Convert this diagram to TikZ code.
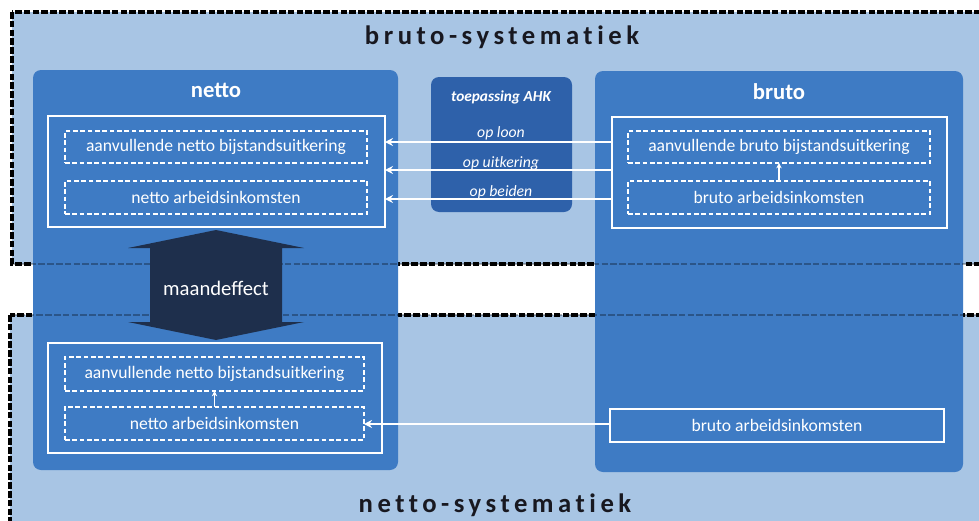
\documentclass[tikz,border=0pt]{standalone}
\usepackage{fontspec}
\setmainfont{Carlito}
\newfontfamily\spacedfont[LetterSpace=17,Ligatures=NoCommon]{Carlito}
\usetikzlibrary{arrows.meta}
\definecolor{regionblue}{RGB}{168,197,228}
\definecolor{panelblue}{RGB}{62,123,196}
\definecolor{ahkblue}{RGB}{46,97,170}
\definecolor{navyarrow}{RGB}{30,47,76}
\definecolor{titlecol}{RGB}{24,24,32}
\newcommand\pw{0.75pt}
\begin{document}
\begin{tikzpicture}[x=0.75pt,y=-0.75pt,
  region/.style={fill=regionblue,draw=black,line width=2.6pt,dash pattern=on 5pt off 1.6pt},
  panel/.style={fill=panelblue,rounded corners=6pt,inner sep=0pt,outer sep=0pt},
  ahkpanel/.style={fill=ahkblue,rounded corners=6pt,inner sep=0pt,outer sep=0pt},
  solidbox/.style={draw=white,line width=1.4pt,inner sep=0pt,outer sep=0pt,text=white,font=\fontsize{13.2}{15}\selectfont},
  dashbox/.style={draw=white,line width=1.1pt,dash pattern=on 3.5pt off 2pt,inner sep=0pt,outer sep=0pt,text=white,font=\fontsize{13.2}{15}\selectfont},
  header/.style={text=white,font=\fontsize{17}{20}\selectfont\bfseries},
  ahklabel/.style={text=white,font=\fontsize{11.8}{13}\selectfont\itshape},
  title/.style={text=titlecol,font=\fontsize{20}{23}\selectfont\spacedfont\bfseries},
  conn/.style={draw=white,line width=1.6pt,-{Stealth[length=6pt,width=6pt]}},
  smallconn/.style={draw=white,line width=1.2pt,-{Stealth[length=4pt,width=4pt]}}
]
\useasboundingbox (0,0) rectangle (979,521);
\fill[white] (0,0) rectangle (979,521);
\begin{scope}
\clip (0,0) rectangle (979,521);
\draw[region] (12,12) rectangle (1010,264);
\draw[region] (10,315) rectangle (1010,545);
\end{scope}

% panels
\node[panel,minimum width=365*\pw,minimum height=400*\pw] (netPanel) at (215.5,270) {};
\node[panel,minimum width=368*\pw,minimum height=401*\pw] (bruPanel) at (779,271.5) {};
\node[ahkpanel,minimum width=141*\pw,minimum height=135*\pw] (ahkPanel) at (501.5,144.5) {};

% faint dashes showing through the panels
\begin{scope}
\clip (0,0) rectangle (979,521);
\draw[draw=black,draw opacity=0.3,line width=1.1pt,dash pattern=on 5pt off 1.6pt] (12,264) -- (1010,264);
\draw[draw=black,draw opacity=0.3,line width=1.1pt,dash pattern=on 5pt off 1.6pt] (10,315) -- (1010,315);
\end{scope}

% titles
\node[title] (bsTitle) at (502,37) {bruto-systematiek};
\node[title] (nsTitle) at (495,505) {netto-systematiek};

% headers
\node[header] (netHead) at (216,90) {netto};
\node[header] (bruHead) at (779,92) {bruto};
\node[text=white,font=\fontsize{11.5}{13}\selectfont\bfseries\itshape] (ahkHead) at (501,97) {toepassing AHK};

% upper netto
\node[solidbox,minimum width=337*\pw,minimum height=111*\pw] (netUp) at (216.5,171.5) {};
\node[dashbox,minimum width=302*\pw,minimum height=32*\pw] (netAanv) at (216,147) {aanvullende netto bijstandsuitkering};
\node[dashbox,minimum width=302*\pw,minimum height=33*\pw] (netArb) at (216,197.5) {netto arbeidsinkomsten};

% upper bruto
\node[solidbox,minimum width=335*\pw,minimum height=111*\pw] (bruUp) at (779.5,172.5) {};
\node[dashbox,minimum width=302*\pw,minimum height=32*\pw] (bruAanv) at (779,147) {aanvullende bruto bijstandsuitkering};
\node[dashbox,minimum width=302*\pw,minimum height=33*\pw] (bruArb) at (779,197.5) {bruto arbeidsinkomsten};
\draw[smallconn] (bruArb.north) -- (bruAanv.south);

% AHK arrows and labels
\node[ahklabel] (opLoon) at (501,133) {op loon};
\node[ahklabel] (opUitk) at (501,163) {op uitkering};
\node[ahklabel] (opBeid) at (501,192) {op beiden};
\draw[conn] (bruUp.west |- 0,142) -- (netUp.east |- 0,142);
\draw[conn] (bruUp.west |- 0,170) -- (netUp.east |- 0,170);
\draw[conn] (bruUp.west |- 0,199) -- (netUp.east |- 0,199);

% maandeffect double arrow
\fill[navyarrow] (216,230) -- (304,248) -- (282,248) -- (282,322) -- (304,322) -- (216,340)
  -- (128,322) -- (150,322) -- (150,248) -- (128,248) -- cycle;
\node[text=white,font=\fontsize{15.5}{18}\selectfont] (maand) at (216,288) {maandeffect};

% lower netto
\node[solidbox,minimum width=334*\pw,minimum height=110*\pw] (netLow) at (215,398) {};
\node[dashbox,minimum width=299*\pw,minimum height=34*\pw] (netAanvL) at (214.5,374) {aanvullende netto bijstandsuitkering};
\node[dashbox,minimum width=299*\pw,minimum height=33*\pw] (netArbL) at (214.5,423.5) {netto arbeidsinkomsten};
\draw[smallconn] (netArbL.north) -- (netAanvL.south);

% lower bruto
\node[solidbox,minimum width=334*\pw,minimum height=33*\pw] (bruLow) at (777,425.5) {bruto arbeidsinkomsten};
\draw[conn] (bruLow.west |- 0,424) -- (netArbL.east |- 0,424);
\end{tikzpicture}
\end{document}
